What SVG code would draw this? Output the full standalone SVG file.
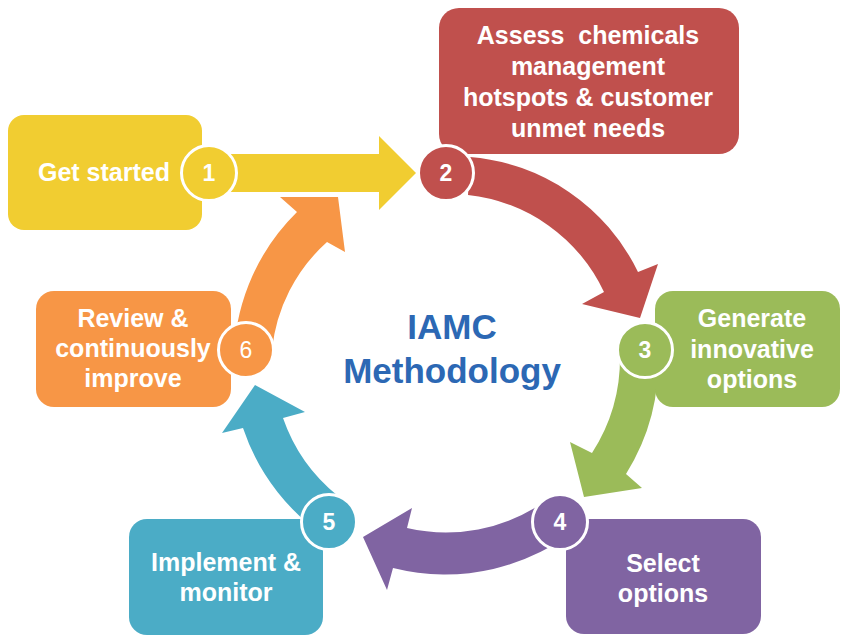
<svg xmlns="http://www.w3.org/2000/svg" width="842" height="635" viewBox="0 0 842 635">
<style>
.lbl{font-family:"Liberation Sans",Arial,sans-serif;font-weight:bold;font-size:25px;fill:#fff;text-anchor:middle}
.num{font-family:"Liberation Sans",Arial,sans-serif;font-weight:bold;font-size:23px;fill:#fff;text-anchor:middle}
.ring{stroke:#fff;stroke-width:3}
.title{font-family:"Liberation Sans",Arial,sans-serif;font-weight:bold;font-size:35px;fill:#2C68B4;text-anchor:middle}
</style>
<rect width="842" height="635" fill="#fff"/>
<g id="connectors">
<path d="M230,154 L379,154 L379,136 L416,173 L379,210 L379,192 L230,192 Z" fill="#F1CD31"/>
<path d="M470,157 A205 205 0 0 1 638,272 L658,264 L640,318 L582,304 L604,292 A170 170 0 0 0 468,195 Z" fill="#C0504D"/>
<path d="M658,352 A213 213 0 0 1 626,474 L642,488 L584,497 L570,442 L592,453 A175 175 0 0 0 620,356 Z" fill="#9BBB59"/>
<path d="M583,524 A214 214 0 0 1 393,568 L387,590 L363,537 L412,508 L407,528 A173 173 0 0 0 544,502 Z" fill="#8064A2"/>
<path d="M332,541 A213 213 0 0 1 243,428 L222,433 L255,385 L305,412 L283,418 A172 172 0 0 0 338,496 Z" fill="#4BACC6"/>
<path d="M234,371 A211 211 0 0 1 297,212 L280,197 L338,197 L345,252 L327,242 A168 168 0 0 0 272,350 Z" fill="#F79646"/>
</g>
<g id="title">
<text class="title" x="452" y="339">IAMC</text>
<text class="title" x="452" y="383">Methodology</text>
</g>
<g id="step1">
<rect x="8" y="115" width="194" height="115" rx="16" fill="#F1CD31"/>
<text class="lbl" x="104" y="181">Get started</text>
<circle class="ring" cx="209" cy="173" r="27.5" fill="#F1CD31"/>
<text class="num" x="209" y="181">1</text>
</g>
<g id="step2">
<rect x="439" y="8" width="300" height="146" rx="20" fill="#C0504D"/>
<text class="lbl" x="588" y="44" xml:space="preserve">Assess  chemicals</text>
<text class="lbl" x="588" y="75">management</text>
<text class="lbl" x="588" y="106">hotspots &amp; customer</text>
<text class="lbl" x="588" y="137">unmet needs</text>
<circle class="ring" cx="446" cy="173" r="27.5" fill="#C0504D"/>
<text class="num" x="446" y="181">2</text>
</g>
<g id="step3">
<rect x="655" y="291" width="185" height="116" rx="18" fill="#9BBB59"/>
<text class="lbl" x="752" y="327">Generate</text>
<text class="lbl" x="752" y="358">innovative</text>
<text class="lbl" x="752" y="388">options</text>
<circle class="ring" cx="645" cy="350" r="27.5" fill="#9BBB59"/>
<text class="num" x="645" y="358">3</text>
</g>
<g id="step4">
<rect x="566" y="519" width="195" height="115" rx="18" fill="#8064A2"/>
<text class="lbl" x="663" y="572">Select</text>
<text class="lbl" x="663" y="602">options</text>
<circle class="ring" cx="560" cy="522" r="27.5" fill="#8064A2"/>
<text class="num" x="560" y="530">4</text>
</g>
<g id="step5">
<rect x="129" y="519" width="194" height="116" rx="18" fill="#4BACC6"/>
<text class="lbl" x="226" y="571">Implement &amp;</text>
<text class="lbl" x="226" y="601">monitor</text>
<circle class="ring" cx="329" cy="522" r="27.5" fill="#4BACC6"/>
<text class="num" x="329" y="530">5</text>
</g>
<g id="step6">
<rect x="36" y="291" width="195" height="116" rx="18" fill="#F79646"/>
<text class="lbl" x="133" y="327">Review &amp;</text>
<text class="lbl" x="133" y="357">continuously</text>
<text class="lbl" x="133" y="387">improve</text>
<circle class="ring" cx="246" cy="350" r="27.5" fill="#F79646"/>
<text class="num" x="246" y="358" font-weight="normal" style="font-weight:normal">6</text>
</g>
</svg>
